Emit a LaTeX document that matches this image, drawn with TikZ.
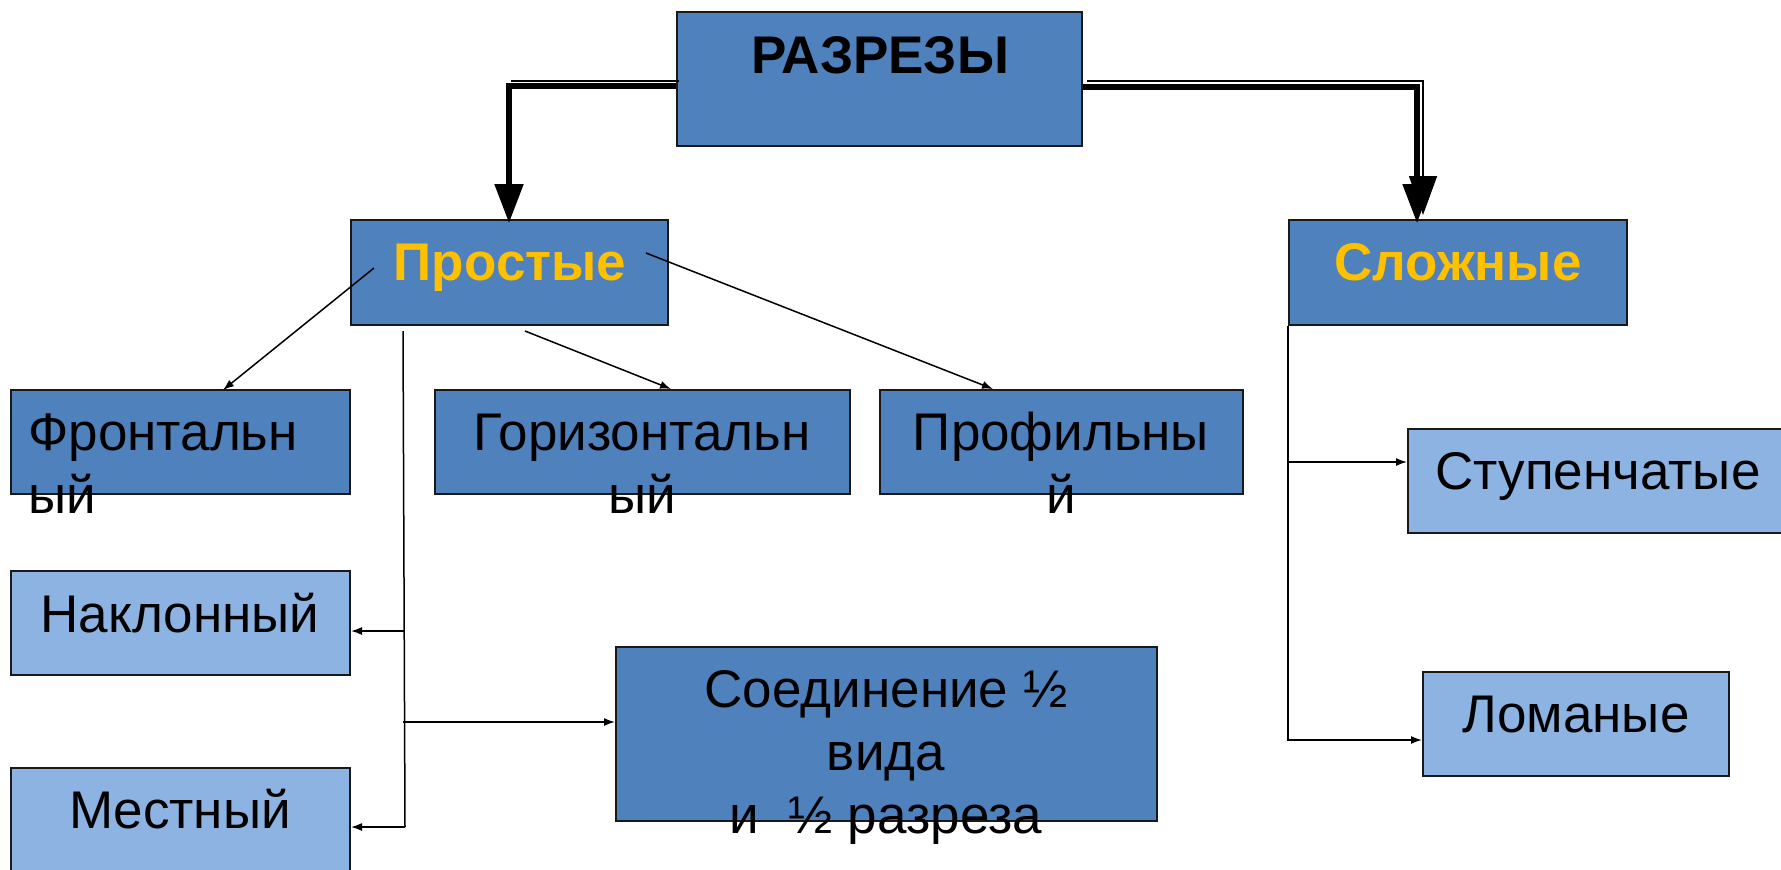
\documentclass[tikz,border=0pt]{standalone}
\usepackage{fontspec}
\setmainfont{Liberation Sans}
\usetikzlibrary{arrows.meta,calc,fit}
\definecolor{dkblue}{HTML}{4F81BD}
\definecolor{ltblue}{HTML}{8DB3E2}
\definecolor{gold}{HTML}{FFC000}
\begin{document}
\begin{tikzpicture}[x=0.5pt,y=-0.5pt,
  box/.style={draw=black!90, line width=1pt, inner sep=0pt},
  dark/.style={box, fill=dkblue},
  light/.style={box, fill=ltblue},
  lbl/.style={inner sep=0pt, font=\fontsize{26.5}{31.5}\selectfont},
  hdr/.style={inner sep=0pt, font=\fontsize{26.5}{31.5}\selectfont\bfseries},
  conn/.style={line width=0.75pt, -{Latex[length=5.5pt,width=4pt]}},
  plain/.style={line width=0.75pt},
  bigarrow/.style={line width=2.6pt, -{Triangle[length=19.5pt,width=14pt]}},
  thinarrow/.style={line width=0.75pt, -{Triangle[length=19.5pt,width=14pt]}}]
\clip (0,0) rectangle (1781,869);
% boxes
\node[dark, fit={(677,12) (1082,146)}] (raz) {};
\node[dark, fit={(351,220) (668,325)}] (prost) {};
\node[dark, fit={(1289,220) (1627,325)}] (slozh) {};
\node[dark, fit={(11,390) (350,494)}] (front) {};
\node[dark, fit={(435,390) (850,494)}] (gor) {};
\node[dark, fit={(880,390) (1243,494)}] (prof) {};
\node[light, fit={(11,571) (350,675)}] (nakl) {};
\node[light, fit={(11,768) (350,900)}] (mest) {};
\node[dark, fit={(616,647) (1157,821)}] (soed) {};
\node[light, fit={(1408,429) (1800,533)}] (stup) {};
\node[light, fit={(1423,672) (1729,776)}] (lom) {};
% texts
\node[hdr, anchor=base] (razT) at (880,73) {РАЗРЕЗЫ};
\node[hdr, text=gold, anchor=base] (prostT) at (510,280) {Простые};
\node[hdr, text=gold, anchor=base] (slozhT) at (1458,280) {Сложные};
\node[lbl, anchor=base west] (frontT) at (28,450) {\begin{tabular}[t]{@{}l@{}}Фронтальн\\ый\end{tabular}};
\node[lbl, anchor=base] (gorT) at (642,450) {\begin{tabular}[t]{@{}c@{}}Горизонтальн\\ый\end{tabular}};
\node[lbl, anchor=base] (profT) at (1061,450) {\begin{tabular}[t]{@{}c@{}}Профильны\\й\end{tabular}};
\node[lbl, anchor=base] (naklT) at (180,632) {Наклонный};
\node[lbl, anchor=base] (mestT) at (180,828) {Местный};
\node[lbl, anchor=base] (soedT) at (886,707) {\begin{tabular}[t]{@{}c@{}}Соединение ½\\вида\\и~~½ разреза\end{tabular}};
\node[lbl, anchor=base] (stupT) at (1598,489) {Ступенчатые};
\node[lbl, anchor=base] (lomT) at (1576,732) {Ломаные};
% top connectors
\coordinate (lThin0) at ($(raz.north west)+(3,70)$);
\coordinate (lThin1) at ($(prost.north west)+(161,-138)$);
\draw[plain] (lThin0) -- (lThin1);
\coordinate (rThin0) at ($(raz.north east)+(4,70)$);
\coordinate (rThin1) at ($(slozh.north west)+(135,-4)$);
\draw[thinarrow] (rThin0) -| (rThin1);
\coordinate (lThick0) at ($(raz.north west)+(0,75)$);
\coordinate (lThick1) at ($(prost.north west)+(159,4)$);
\draw[bigarrow] (lThick0) -| (lThick1);
\coordinate (rThick0) at ($(raz.north east)+(0,76)$);
\coordinate (rThick1) at ($(slozh.north west)+(129,4)$);
\draw[bigarrow] (rThick0) -| (rThick1);
% from Простые
\coordinate (pA) at ($(prost.north west)+(24,49)$);
\draw[conn] (pA) -- ($(front.north west)+(213,1)$);
\coordinate (pB) at ($(prost.south west)+(175,5)$);
\draw[conn] (pB) -- ($(gor.north west)+(237,0)$);
\coordinate (pC) at ($(prost.north west)+(296,34)$);
\draw[conn] (pC) -- ($(prof.north west)+(114,0)$);
\coordinate (vTop) at ($(prost.south west)+(53,5)$);
\coordinate (vBot) at ($(mest.north east)+(54,60)$);
\draw[plain] (vTop) -- (vBot);
\draw[conn] (vBot) -- ($(mest.north east)+(0,60)$);
\coordinate (vN) at ($(nakl.north east)+(54,61)$);
\draw[conn] (vN) -- ($(nakl.north east)+(0,61)$);
\coordinate (vS) at ($(soed.north west)+(-212,76)$);
\draw[conn] (vS) -- ($(soed.north west)+(0,76)$);
% from Сложные
\draw[conn] (slozh.south west) |- ($(lom.north west)+(0,69)$);
\coordinate (sMid) at ($(stup.north west)+(-119,34)$);
\draw[conn] (sMid) -- ($(stup.north west)+(0,34)$);
\end{tikzpicture}
\end{document}
